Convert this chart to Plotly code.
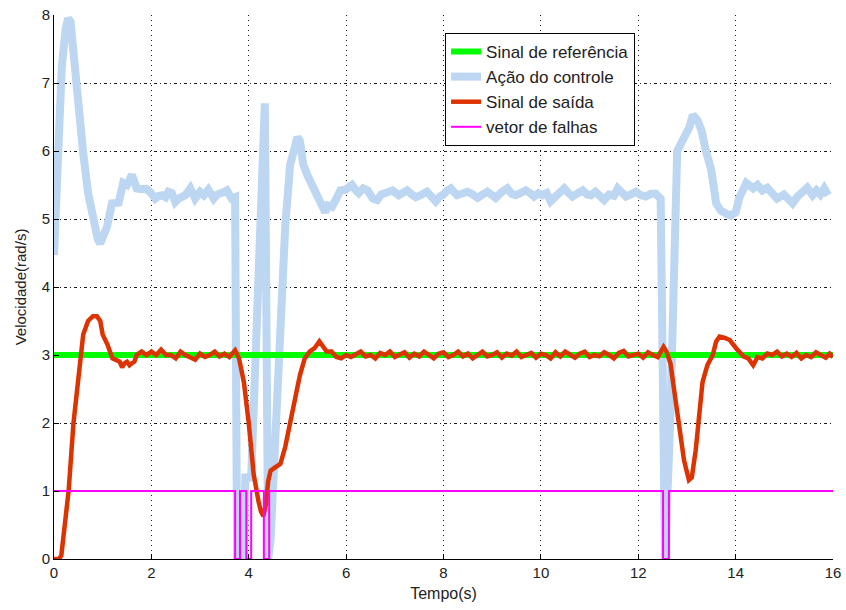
import plotly.graph_objects as go

# ---- data ----
t_ref = [0, 16]
ref = [3, 3]

t_u = [0, 0.08, 0.16, 0.24, 0.29, 0.34, 0.39, 0.45, 0.5, 0.6, 0.7, 0.78, 0.84, 0.9, 0.95, 1.02, 1.09, 1.19, 1.26, 1.33, 1.42, 1.5, 1.6, 1.65, 1.7, 1.77, 1.84, 1.9, 1.97, 2.08, 2.15, 2.22, 2.29, 2.35, 2.42, 2.49, 2.56, 2.63, 2.7, 2.8, 2.9, 3.0, 3.08, 3.17, 3.28, 3.35, 3.42, 3.5, 3.55, 3.65, 3.72,
       3.76, 3.9, 3.93, 4.02, 4.05, 4.33, 4.4, 4.45, 4.6, 4.75, 4.85, 4.93, 5.0, 5.05, 5.12, 5.2, 5.3, 5.4, 5.5, 5.57, 5.63, 5.71, 5.8, 5.88, 5.99, 6.12, 6.2, 6.26, 6.35, 6.44, 6.55, 6.64, 6.72, 6.81, 6.95, 7.08, 7.17, 7.25, 7.35, 7.43, 7.53, 7.66, 7.75, 7.84, 7.92, 7.98, 8.08, 8.15, 8.28, 8.38, 8.49, 8.6, 8.7, 8.8, 8.9, 9.0, 9.07, 9.2, 9.31, 9.4, 9.48, 9.58, 9.69, 9.78, 9.86, 9.95, 10.03, 10.12, 10.2, 10.3, 10.4, 10.48, 10.57, 10.65, 10.76, 10.86, 10.95, 11.03, 11.12, 11.22, 11.3, 11.4, 11.5, 11.58, 11.64, 11.75, 11.85, 11.95, 12.05, 12.15, 12.26, 12.36, 12.46, 12.52,
       12.55, 12.66, 12.8, 13.05, 13.12, 13.22, 13.3, 13.39, 13.5, 13.6, 13.7, 13.8, 13.9, 14.0, 14.08, 14.22, 14.36, 14.45, 14.55, 14.65, 14.75, 14.85, 14.99, 15.08, 15.17, 15.27, 15.37, 15.47, 15.58, 15.66, 15.74, 15.82, 15.9, 16.0]
u = [4.47, 6.0, 7.24, 7.8, 7.95, 7.9, 7.49, 7.3, 6.9, 5.97, 5.38, 5.05, 4.79, 4.7, 4.64, 4.8, 4.89, 5.23, 5.25, 5.24, 5.53, 5.5, 5.65, 5.58, 5.45, 5.44, 5.43, 5.44, 5.4, 5.3, 5.34, 5.35, 5.32, 5.4, 5.38, 5.25, 5.3, 5.33, 5.35, 5.45, 5.3, 5.4, 5.35, 5.43, 5.3, 5.36, 5.37, 5.4, 5.42, 5.3, 5.32,
     0.0, 0.0, 1.2, 1.2, 1.2, 6.7, 0.0, 0.3, 2.6, 4.9, 5.8, 6.05, 6.2, 6.15, 5.8, 5.65, 5.5, 5.35, 5.15, 5.1, 5.2, 5.18, 5.3, 5.42, 5.43, 5.5, 5.42, 5.38, 5.45, 5.42, 5.3, 5.28, 5.36, 5.38, 5.42, 5.35, 5.38, 5.42, 5.36, 5.32, 5.35, 5.4, 5.33, 5.26, 5.33, 5.35, 5.42, 5.45, 5.35, 5.37, 5.4, 5.36, 5.31, 5.36, 5.4, 5.35, 5.31, 5.4, 5.45, 5.37, 5.35, 5.38, 5.42, 5.38, 5.33, 5.38, 5.35, 5.38, 5.26, 5.33, 5.4, 5.45, 5.38, 5.33, 5.38, 5.42, 5.36, 5.35, 5.4, 5.33, 5.28, 5.36, 5.34, 5.45, 5.4, 5.33, 5.36, 5.4, 5.35, 5.33, 5.37, 5.37, 5.3,
     0.0, 0.0, 2.1, 6.0, 6.35, 6.53, 6.45, 6.3, 6.0, 5.72, 5.23, 5.12, 5.08, 5.05, 5.1, 5.32, 5.53, 5.45, 5.5, 5.42, 5.46, 5.36, 5.3, 5.36, 5.3, 5.23, 5.33, 5.38, 5.46, 5.35, 5.42, 5.36, 5.45, 5.35]

t_y = [0, 0.1, 0.15, 0.2, 0.3, 0.4, 0.5, 0.55, 0.6, 0.7, 0.8, 0.88, 0.95, 1.0, 1.1, 1.2, 1.3, 1.35, 1.4, 1.45, 1.5, 1.55, 1.6, 1.65, 1.7, 1.8, 1.9, 2.0, 2.1, 2.2, 2.3, 2.4, 2.5, 2.6, 2.7, 2.8, 2.9, 3.0, 3.1, 3.2, 3.3, 3.4, 3.5, 3.6, 3.72, 3.8, 3.9, 4.0, 4.1, 4.2, 4.25, 4.3, 4.35, 4.4, 4.45, 4.55, 4.65, 4.75, 4.85, 4.95, 5.05, 5.15, 5.25, 5.35, 5.45, 5.5, 5.6, 5.7, 5.8, 5.9, 6.0, 6.1, 6.2, 6.3, 6.4, 6.5, 6.6, 6.7, 6.8, 6.9, 7.0, 7.1, 7.2, 7.3, 7.4, 7.5, 7.6, 7.7, 7.8, 7.9, 8.0, 8.1, 8.2, 8.3, 8.4, 8.5, 8.6, 8.7, 8.8, 8.9, 9.0, 9.1, 9.2, 9.3, 9.4, 9.5, 9.6, 9.7, 9.8, 9.9, 10.0, 10.1, 10.2, 10.3, 10.4, 10.5, 10.6, 10.7, 10.8, 10.9, 11.0, 11.1, 11.2, 11.3, 11.4, 11.5, 11.6, 11.7, 11.8, 11.9, 12.0, 12.1, 12.2, 12.3, 12.4, 12.52, 12.58, 12.66, 12.76, 12.87, 12.94, 13.04, 13.1, 13.18, 13.25, 13.32, 13.42, 13.53, 13.6, 13.67, 13.78, 13.88, 14.01, 14.16, 14.26, 14.36, 14.45, 14.55, 14.65, 14.75, 14.85, 14.95, 15.05, 15.15, 15.25, 15.35, 15.45, 15.55, 15.65, 15.75, 15.85, 15.93, 16.0]
y = [0, 0, 0.05, 0.35, 1.0, 2.0, 2.7, 3.1, 3.3, 3.5, 3.57, 3.57, 3.5, 3.3, 3.15, 2.95, 2.92, 2.9, 2.82, 2.88, 2.9, 2.85, 2.88, 2.9, 3.0, 3.05, 3.0, 3.05, 3.0, 3.08, 3.0, 3.0, 2.95, 3.05, 3.0, 2.97, 2.93, 3.02, 2.97, 3.0, 3.05, 2.98, 3.02, 2.97, 3.07, 2.95, 2.6, 2.0, 1.25, 0.85, 0.7, 0.63, 0.8, 1.15, 1.3, 1.35, 1.4, 1.65, 2.0, 2.3, 2.7, 2.95, 3.05, 3.1, 3.2, 3.15, 3.05, 3.05, 2.97, 2.95, 3.0, 2.97, 3.02, 3.05, 2.98, 3.0, 2.95, 3.03, 3.0, 3.05, 2.97, 3.0, 3.04, 2.96, 3.02, 2.98, 3.05, 3.0, 2.95, 3.02, 3.04, 2.97, 3.0, 3.05, 2.98, 3.02, 2.95, 3.0, 3.05, 2.98, 3.0, 3.04, 2.96, 3.02, 2.99, 3.05, 2.97, 3.0, 3.03, 2.96, 3.02, 3.0, 2.95, 3.04, 2.98, 3.05, 3.0, 2.96, 3.02, 3.05, 2.97, 3.0, 2.98, 3.04, 3.0, 2.95, 3.03, 3.06, 2.98, 3.0, 3.02, 2.96, 3.04, 3.0, 2.97, 3.12, 3.05, 2.88, 2.4, 1.8, 1.45, 1.16, 1.2, 1.6, 2.1, 2.6, 2.85, 3.0, 3.2, 3.27, 3.25, 3.22, 3.1, 2.98, 2.95, 2.85, 2.97, 2.95, 3.02, 3.0, 3.05, 2.98, 3.02, 2.97, 3.03, 2.95, 3.0, 2.97, 3.04, 3.0, 2.96, 3.02, 2.97, 3.05]

t_f = [0, 3.72, 3.72, 3.82, 3.82, 3.95, 3.95, 4.05, 4.05, 4.31, 4.31, 4.42, 4.42, 12.51, 12.51, 12.63, 12.63, 16]
f = [1, 1, 0, 0, 1, 1, 0, 0, 1, 1, 0, 0, 1, 1, 0, 0, 1, 1]

x_ticks = [0, 2, 4, 6, 8, 10, 12, 14, 16]
y_ticks = [0, 1, 2, 3, 4, 5, 6, 7, 8]

FONT = "Liberation Sans, Arial"

fig = go.Figure()
fig.add_trace(go.Scatter(x=t_u, y=u, mode="lines", name="Ação do controle",
                         line=dict(color="#BDD6F1", width=8), legendrank=2))
fig.add_trace(go.Scatter(x=t_ref, y=ref, mode="lines", name="Sinal de referência",
                         line=dict(color="#00FF00", width=6), legendrank=1))
fig.add_trace(go.Scatter(x=t_y, y=y, mode="lines", name="Sinal de saída",
                         line=dict(color="#DD3300", width=4.5), legendrank=3))
fig.add_trace(go.Scatter(x=t_f, y=f, mode="lines", name="vetor de falhas",
                         line=dict(color="#FF00FF", width=2), legendrank=4))

axis_common = dict(showline=True, linecolor="black", linewidth=1, mirror=False,
                   ticks="inside", ticklen=5, tickcolor="black", zeroline=False,
                   showgrid=True, gridcolor="rgba(0,0,0,0.9)", gridwidth=1,
                   automargin=False,
                   tickfont=dict(family=FONT, size=15, color="#222"))

fig.update_xaxes(range=[0, 16], tickvals=x_ticks, griddash="1px,4px",
                 title=dict(text="Tempo(s)", standoff=7,
                            font=dict(family=FONT, size=16, color="#222")),
                 **axis_common)
fig.update_yaxes(range=[0, 8], tickvals=y_ticks, griddash="3px,3px,1px,3px",
                 title=dict(text="Velocidade(rad/s)", standoff=11,
                            font=dict(family=FONT, size=15, color="#222")),
                 **axis_common)

fig.update_layout(
    width=846, height=610,
    margin=dict(l=54, r=13, t=15, b=51),
    plot_bgcolor="white", paper_bgcolor="white",
    font=dict(family=FONT, color="#222"),
    legend=dict(x=0.502, y=0.967, xanchor="left", yanchor="top",
                bgcolor="white", bordercolor="black", borderwidth=1,
                font=dict(family=FONT, size=17, color="#222"),
                tracegroupgap=0),
    showlegend=True,
)

fig.write_html("out.html", config={"displayModeBar": False},
               post_script="document.body.style.margin='0';document.body.style.overflow='hidden';")
